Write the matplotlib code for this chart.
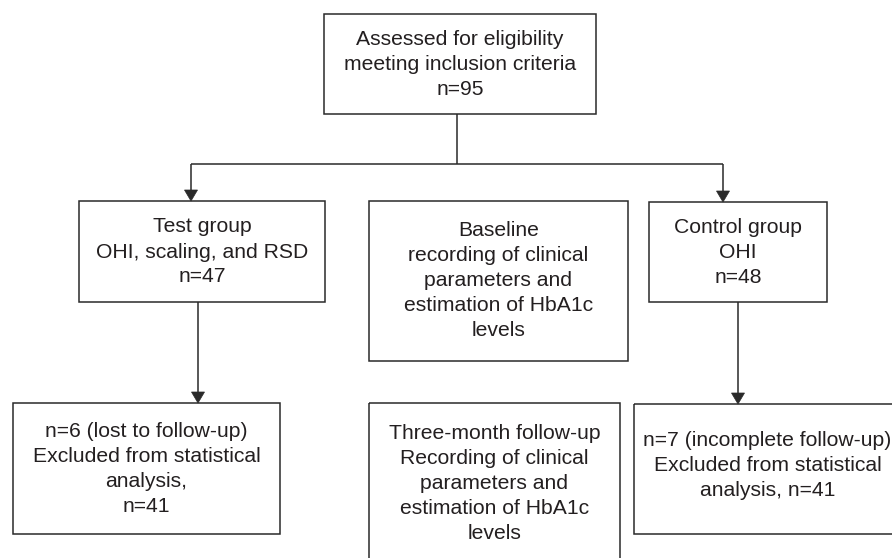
import matplotlib
matplotlib.use("Agg")
import matplotlib.pyplot as plt
from matplotlib.patches import Rectangle, Polygon

# ---- content ----
box_texts = [
    ["Assessed for eligibility", "meeting inclusion criteria", "n=95"],
    ["Test group", "OHI, scaling, and RSD", "n=47"],
    ["Baseline", "recording of clinical", "parameters and", "estimation of HbA1c", "levels"],
    ["Control group", "OHI", "n=48"],
    ["n=6 (lost to follow-up)", "Excluded from statistical", "analysis,", "n=41"],
    ["Three-month follow-up", "Recording of clinical", "parameters and", "estimation of HbA1c", "levels"],
    ["n=7 (incomplete follow-up)", "Excluded from statistical", "analysis, n=41"],
]

# ---- layout (pixel coordinates: left, top, right, bottom) ----
box_left   = [324, 79, 369, 649, 13, 369, 634]
box_top    = [14, 201, 201, 202, 403, 403, 404]
box_right  = [596, 325, 628, 827, 280, 620, 901]
box_bottom = [114, 302, 361, 302, 534, 564, 534]
text_cx    = [460, 202, 498.5, 738, 146.5, 494.5, 767.5]
text_cy    = [64, 251.5, 280, 252, 468.5, 483.3, 465]

W, H = 892, 558
LINE_C = "#2a2a2a"
TEXT_C = "#231f20"
FS = 15.26
LSTEP = 25.0
LW = 1.1

fig = plt.figure(figsize=(W / 100, H / 100), dpi=100)
ax = fig.add_axes([0, 0, 1, 1])
ax.set_xlim(0, W)
ax.set_ylim(H, 0)
ax.axis("off")

for lines, l, t, r, b, cx, cy in zip(box_texts, box_left, box_top, box_right,
                                     box_bottom, text_cx, text_cy):
    ax.add_patch(Rectangle((l, t), r - l, b - t, fill=False,
                           edgecolor=LINE_C, linewidth=LW, zorder=2))
    n = len(lines)
    for i, s in enumerate(lines):
        y = cy + 6 + (i - (n - 1) / 2) * LSTEP
        ax.text(cx, y, s, ha="center", va="baseline", fontsize=FS,
                family=["Liberation Sans", "DejaVu Sans"], color=TEXT_C, zorder=3)


def line(xs, ys):
    ax.plot(xs, ys, color=LINE_C, linewidth=LW, solid_capstyle="butt", zorder=1)


def arrow_down(x, y0, y1):
    hw, hl = 6.5, 11
    line([x, x], [y0, y1 - hl + 1])
    ax.add_patch(Polygon([(x - hw, y1 - hl), (x + hw, y1 - hl), (x, y1)],
                         closed=True, facecolor=LINE_C, edgecolor=LINE_C,
                         linewidth=0.5, zorder=2))

# connectors
line([457, 457], [114, 164])
line([191, 723], [164, 164])
arrow_down(191, 164, 201)
arrow_down(723, 164, 202)
arrow_down(198, 302, 403)
arrow_down(738, 302, 404)

fig.savefig("out.png", dpi=100, facecolor="white")
